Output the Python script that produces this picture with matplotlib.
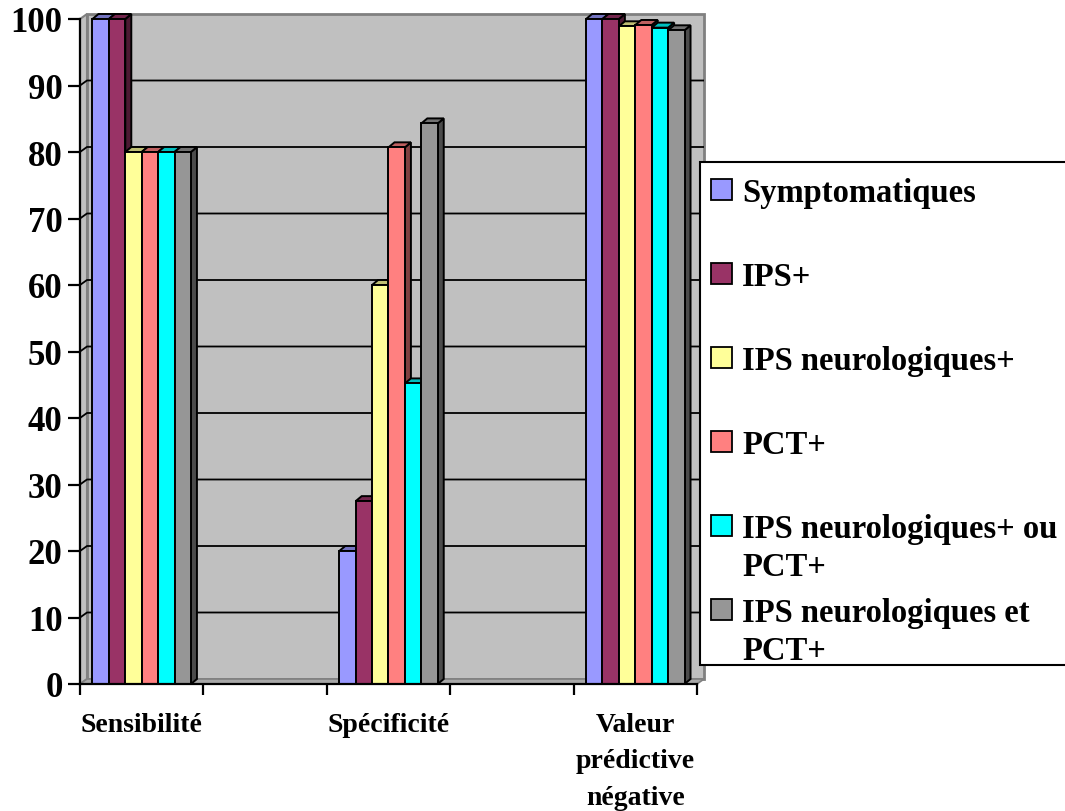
import matplotlib
matplotlib.use('Agg')
import matplotlib.pyplot as plt
from matplotlib.patches import Polygon, Rectangle
from matplotlib.colors import to_rgb
import numpy as np

# ---------------- data ----------------
categories = ['Sensibilité', 'Spécificité', 'Valeur\nprédictive\nnégative']
series_labels = ['Symptomatiques', 'IPS+', 'IPS neurologiques+', 'PCT+',
                 'IPS neurologiques+ ou\nPCT+', 'IPS neurologiques et\nPCT+']
symptomatiques = [100, 20, 100]
ips_plus = [100, 27.5, 100]
ips_neuro_plus = [80, 60, 98.9]
pct_plus = [80, 80.7, 99.1]
ips_neuro_ou_pct = [80, 45.2, 98.7]
ips_neuro_et_pct = [80, 84.3, 98.3]
series_values = [symptomatiques, ips_plus, ips_neuro_plus, pct_plus,
                 ips_neuro_ou_pct, ips_neuro_et_pct]
colors = ['#9999FF', '#993366', '#FFFF99', '#FF8080', '#00FFFF', '#969696']
yticks = list(range(0, 101, 10))

FONT = 'Liberation Serif'


def shade(c, f):
    r, g, b = to_rgb(c)
    return (r * f, g * f, b * f)


W, H = 1065, 812
fig = plt.figure(figsize=(W / 100, H / 100), dpi=100)
fig.patch.set_facecolor('white')

# front frame of the plot in pixels
L, R, B, T = 80, 697, 685, 20
ax = fig.add_axes([L / W, 1 - B / H, (R - L) / W, (B - T) / H])
n_slots = 2 * len(categories) - 1
xmin, xmax = -0.5, n_slots - 0.5
ax.set_xlim(xmin, xmax)
ax.set_ylim(0, 100)
ax.patch.set_visible(False)

px_x = (xmax - xmin) / (R - L)
px_y = 100 / (B - T)
wdx, wdy = 7 * px_x, 5 * px_y   # wall depth
bdx, bdy = 6 * px_x, 5 * px_y   # bar depth

wall = '#C0C0C0'
wall_edge = '#808080'
# back wall
ax.add_patch(Rectangle((xmin + wdx, wdy), xmax - xmin, 100, facecolor=wall,
                       edgecolor=wall_edge, lw=2.0, zorder=0, clip_on=False))
# left wall
ax.add_patch(Polygon([(xmin, 0), (xmin + wdx, wdy), (xmin + wdx, 100 + wdy), (xmin, 100)],
                     closed=True, facecolor=wall, edgecolor=wall_edge, lw=1.5,
                     zorder=0.5, clip_on=False))
# floor
ax.add_patch(Polygon([(xmin, 0), (xmax, 0), (xmax + wdx, wdy), (xmin + wdx, wdy)],
                     closed=True, facecolor='#A8A8A8', edgecolor=wall_edge, lw=1.2,
                     zorder=0.5, clip_on=False))
# gridlines
for v in yticks[1:-1]:
    ax.plot([xmin, xmin + wdx, xmax + wdx], [v, v + wdy, v + wdy], color='black',
            lw=1.3, zorder=1, clip_on=False, solid_capstyle='butt')

# bars
nser = len(series_values)
bw = 0.133
z = 2
for ci in range(len(categories)):
    slot = 2 * ci
    x0 = slot - nser * bw / 2
    for si in range(nser):
        v = series_values[si][ci]
        x = x0 + si * bw
        c = colors[si]
        ax.add_patch(Polygon([(x + bw, 0), (x + bw + bdx, bdy), (x + bw + bdx, v + bdy), (x + bw, v)],
                             closed=True, facecolor=shade(c, 0.5), edgecolor='black',
                             lw=1.4, zorder=z, clip_on=False, joinstyle='miter'))
        ax.add_patch(Polygon([(x, v), (x + bw, v), (x + bw + bdx, v + bdy), (x + bdx, v + bdy)],
                             closed=True, facecolor=shade(c, 0.75), edgecolor='black',
                             lw=1.4, zorder=z, clip_on=False, joinstyle='miter'))
        ax.bar(x, v, bw, align='edge', color=c, edgecolor='black', lw=1.4,
               zorder=z + 1, clip_on=False)
        z += 2

# spines & ticks
for s in ['top', 'right']:
    ax.spines[s].set_visible(False)
for s in ['left', 'bottom']:
    ax.spines[s].set_linewidth(1.6)
    ax.spines[s].set_zorder(100)

ax.set_yticks(yticks)
ax.set_yticklabels([str(t) for t in yticks], fontfamily=FONT, fontweight='bold',
                   fontsize=25)
ax.tick_params(axis='y', length=8.5, width=1.6, pad=4, direction='out')

ax.set_xticks([2 * i for i in range(len(categories))])
ax.set_xticklabels(categories, fontfamily=FONT, fontweight='bold', fontsize=20,
                   linespacing=1.6)
ax.tick_params(axis='x', which='major', length=0, pad=20)
ax.set_xticks(np.arange(xmin, xmax + 0.01, 1.0), minor=True)
ax.tick_params(axis='x', which='minor', length=8, width=1.6, direction='out')

# legend (drawn by hand to match the original layout)
lx0, ly_top, ly_bot = 700, 163, 666
fig.patches.append(Rectangle((lx0 / W, 1 - ly_bot / H), (W + 10 - lx0) / W,
                             (ly_bot - ly_top) / H, transform=fig.transFigure,
                             facecolor='white', edgecolor='black', lw=1.5,
                             zorder=200))
entry_centers = [190, 274, 358, 442, 526, 610]
sq = 21
for si in range(nser):
    cy = entry_centers[si]
    fig.patches.append(Rectangle((711 / W, 1 - (cy + sq / 2) / H), sq / W, sq / H,
                                 transform=fig.transFigure, facecolor=colors[si],
                                 edgecolor='black', lw=1.3, zorder=201))
    fig.text(742 / W, 1 - (cy - 12) / H, series_labels[si], fontfamily=FONT,
             fontweight='bold', fontsize=23.5, ha='left', va='top',
             linespacing=1.3, zorder=202)

fig.savefig('out.png', dpi=100, facecolor='white')
